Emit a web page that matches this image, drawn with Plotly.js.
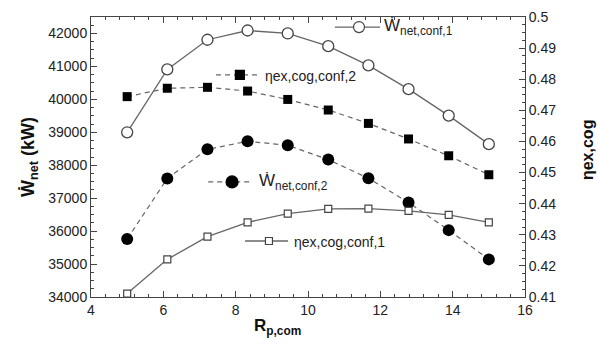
<!DOCTYPE html>
<html>
<head>
<meta charset="utf-8">
<script src="https://cdn.plot.ly/plotly-3.0.1.min.js"></script>
<style>html,body{margin:0;padding:0;background:#fff;}#chart{width:598px;height:352px;}</style>
</head>
<body>
<div id="chart"></div>
<script>
// Data
const rp = [5, 6.11, 7.22, 8.33, 9.44, 10.56, 11.67, 12.78, 13.89, 15];
const wNetConf1 = [39000, 40910, 41810, 42090, 42000, 41615, 41030, 40310, 39505, 38640];
const wNetConf2 = [35760, 37600, 38485, 38727, 38606, 38172, 37606, 36869, 36030, 35142];
const etaConf2 = [0.4744, 0.4771, 0.4774, 0.4762, 0.4735, 0.4701, 0.4658, 0.4608, 0.4554, 0.4493];
const etaConf1 = [0.4111, 0.4221, 0.4294, 0.4340, 0.4368, 0.4383, 0.4384, 0.4377, 0.4364, 0.4340];
const xTicks = [4, 6, 8, 10, 12, 14, 16];
const leftTicks = [34000, 35000, 36000, 37000, 38000, 39000, 40000, 41000, 42000];
const rightTicks = [0.41, 0.42, 0.43, 0.44, 0.45, 0.46, 0.47, 0.48, 0.49, 0.5];

const lineCol = '#666';
const font = 'Arial, "Liberation Sans", sans-serif';

const traces = [
  {x: rp, y: wNetConf1, mode: 'lines+markers', yaxis: 'y',
   line: {color: lineCol, width: 1.3},
   marker: {symbol: 'circle', size: 11, color: '#fff', line: {color: '#444', width: 1.3}}},
  {x: rp, y: etaConf2, mode: 'lines+markers', yaxis: 'y2',
   line: {color: lineCol, width: 1.2, dash: '5px,4px'},
   marker: {symbol: 'square', size: 9, color: '#000', line: {width: 0}}},
  {x: rp, y: wNetConf2, mode: 'lines+markers', yaxis: 'y',
   line: {color: lineCol, width: 1.2, dash: '5px,4px'},
   marker: {symbol: 'circle', size: 12, color: '#000', line: {width: 0}}},
  {x: rp, y: etaConf1, mode: 'lines+markers', yaxis: 'y2',
   line: {color: lineCol, width: 1.3},
   marker: {symbol: 'square', size: 7, color: '#fff', line: {color: '#444', width: 1.2}}}
];

// legend helpers (paper coordinates)
function sampleLine(x0, x1, y, dash) {
  return {type: 'line', xref: 'paper', yref: 'paper', x0: x0, x1: x1, y0: y, y1: y,
          line: {color: lineCol, width: 1.3, dash: dash}};
}
function sampleMarker(type, x, y, size, fill, lc) {
  return {type: type, xref: 'paper', yref: 'paper', xsizemode: 'pixel', ysizemode: 'pixel',
          xanchor: x, yanchor: y, x0: -size/2, x1: size/2, y0: -size/2, y1: size/2,
          fillcolor: fill, line: {color: lc, width: 1.2}, layer: 'above'};
}
function label(text, x, y, size) {
  return {text: text, xref: 'paper', yref: 'paper', x: x, y: y, xanchor: 'left', yanchor: 'middle',
          showarrow: false, font: {family: font, size: size, color: '#222'}};
}

const shapes = [
  sampleLine(0.562, 0.666, 0.964, 'solid'),
  sampleMarker('circle', 0.6175, 0.964, 11, '#fff', '#444'),
  sampleLine(0.288, 0.389, 0.793, '5px,4px'),
  sampleMarker('rect', 0.343, 0.793, 9, '#000', '#000'),
  sampleLine(0.270, 0.373, 0.411, '5px,4px'),
  sampleMarker('circle', 0.325, 0.411, 12, '#000', '#000'),
  sampleLine(0.355, 0.454, 0.200, 'solid'),
  sampleMarker('rect', 0.410, 0.200, 7, '#fff', '#444')
];

const annotations = [
  label('Ẇ<sub>net,conf,1</sub>', 0.670, 0.964, 17),
  label('ηex,cog,conf,2', 0.396, 0.790, 14),
  label('Ẇ<sub>net,conf,2</sub>', 0.382, 0.411, 17),
  label('ηex,cog,conf,1', 0.463, 0.197, 14),
  {text: '<b>Ẇ<sub>net</sub> (kW)</b>', xref: 'paper', yref: 'paper', x: -0.143, y: 0.50,
   textangle: -90, showarrow: false, xanchor: 'center', yanchor: 'middle',
   font: {family: font, size: 18, color: '#111'}},
  {text: '<b>ηex,cog</b>', xref: 'paper', yref: 'paper', x: 1.143, y: 0.525,
   textangle: -90, showarrow: false, xanchor: 'center', yanchor: 'middle',
   font: {family: font, size: 16, color: '#111'}},
  {text: '<b>R<sub>p,com</sub></b>', xref: 'paper', yref: 'paper', x: 0.429, y: -0.107,
   showarrow: false, xanchor: 'center', yanchor: 'middle',
   font: {family: font, size: 17, color: '#111'}}
];

const tickFont = {family: font, size: 14, color: '#222'};

const layout = {
  width: 598, height: 352,
  margin: {l: 91, r: 73, t: 17, b: 55, pad: 0},
  paper_bgcolor: '#fff', plot_bgcolor: '#fff',
  showlegend: false,
  font: {family: font},
  xaxis: {range: [4, 16], tickvals: xTicks, ticktext: xTicks.map(String),
          ticks: 'inside', ticklen: 6, tickcolor: '#444', tickwidth: 1,
          minor: {dtick: 0.4, ticks: 'inside', ticklen: 3, tickcolor: '#444'},
          showline: true, linecolor: '#444', linewidth: 1, mirror: 'ticks',
          showgrid: false, zeroline: false, tickfont: tickFont},
  yaxis: {range: [34000, 42500], tickvals: leftTicks, ticktext: leftTicks.map(String),
          ticks: 'inside', ticklen: 6, tickcolor: '#444',
          minor: {dtick: 250, ticks: 'inside', ticklen: 3, tickcolor: '#444'},
          showline: true, linecolor: '#444', linewidth: 1,
          showgrid: false, zeroline: false, tickfont: tickFont},
  yaxis2: {range: [0.41, 0.5], tickvals: rightTicks, ticktext: rightTicks.map(String),
           overlaying: 'y', side: 'right',
           ticks: 'inside', ticklen: 6, tickcolor: '#444',
           minor: {dtick: 0.0025, ticks: 'inside', ticklen: 3, tickcolor: '#444'},
           showline: true, linecolor: '#444', linewidth: 1,
           showgrid: false, zeroline: false, tickfont: tickFont},
  shapes: shapes,
  annotations: annotations
};

Plotly.newPlot('chart', traces, layout, {staticPlot: true, displayModeBar: false});
</script>
</body>
</html>
